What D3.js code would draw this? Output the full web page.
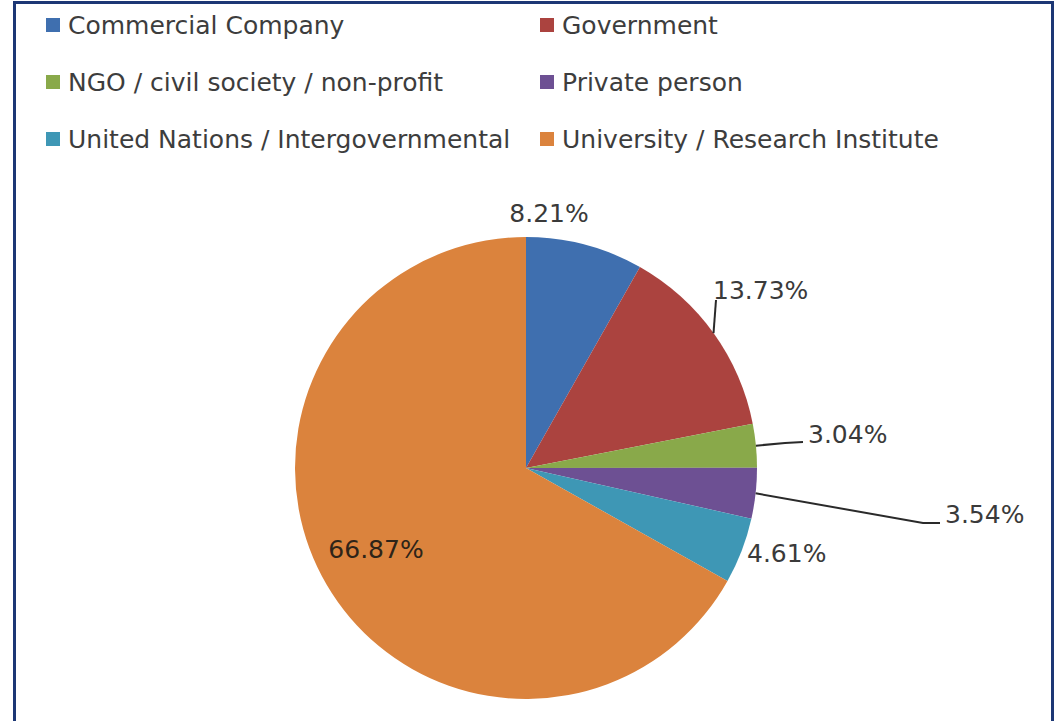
<!DOCTYPE html>
<html>
<head>
<meta charset="utf-8">
<script src="https://cdn.jsdelivr.net/npm/d3@7"></script>
<style>
  html, body { margin: 0; padding: 0; background: #fff; }
  svg { display: block; }
  text { font-family: "DejaVu Sans", sans-serif; }
</style>
</head>
<body>
<svg id="chart" width="1056" height="721"></svg>
<script>
// Respondent organisation types and their share of responses (%)
const categories = [
  "Commercial Company",
  "Government",
  "NGO / civil society / non-profit",
  "Private person",
  "United Nations / Intergovernmental",
  "University / Research Institute"
];
const shares = [8.21, 13.73, 3.04, 3.54, 4.61, 66.87];
const colors = ["#3f6faf", "#ab433f", "#89a94a", "#6d5093", "#3e97b5", "#db833d"];

// Label placement relative to the pie centre: [dx, dy, text-anchor]
const labelLayout = [
  [23, -246, "middle"],
  [187, -169, "start"],
  [282, -25, "start"],
  [419, 55, "start"],
  [221, 94, "start"],
  [-150, 90, "middle"]
];
// Leader lines for slices whose labels sit outside: elbow and end, relative to the label anchor
const leaderLayout = [
  null,
  [[3, 1], [3, 1]],
  [[-23, 0], [-5, -1]],
  [[-22, 0], [-5, 0]],
  null,
  null
];

const W = 1056, H = 721;
const cx = 526, cy = 468, radius = 231;

const svg = d3.select("#chart");

svg.append("rect").attr("width", W).attr("height", H).attr("fill", "#fff");

// Frame
svg.append("path")
  .attr("d", `M14.5,${H + 5} L14.5,2.5 L1052.5,2.5 L1052.5,${H + 5}`)
  .attr("fill", "none")
  .attr("stroke", "#1c3775")
  .attr("stroke-width", 3);

const data = categories.map((c, i) => ({ name: c, value: shares[i], color: colors[i] }));

const pie = d3.pie().value(d => d.value).sort(null);
const arcs = pie(data);
const arc = d3.arc().innerRadius(0).outerRadius(radius);
const edgeArc = d3.arc().innerRadius(radius).outerRadius(radius);

const g = svg.append("g").attr("transform", `translate(${cx},${cy})`);

g.selectAll("path.slice")
  .data(arcs)
  .join("path")
  .attr("class", "slice")
  .attr("d", arc)
  .attr("fill", d => d.data.color);

const fmt = v => v.toFixed(2) + "%";

// Leader lines from the slice edge to the label
g.selectAll("polyline.leader")
  .data(arcs.filter((d, i) => leaderLayout[i]))
  .join("polyline")
  .attr("class", "leader")
  .attr("fill", "none")
  .attr("stroke", "#2a2a2a")
  .attr("stroke-width", 2)
  .attr("points", d => {
    const i = d.index;
    const start = edgeArc.centroid(d);
    const [lx, ly] = labelLayout[i];
    const [elbow, end] = leaderLayout[i];
    return [start, [lx + elbow[0], ly + elbow[1]], [lx + end[0], ly + end[1]]]
      .map(p => p.join(",")).join(" ");
  });

g.selectAll("text.value")
  .data(arcs)
  .join("text")
  .attr("class", "value")
  .attr("x", d => labelLayout[d.index][0])
  .attr("y", d => labelLayout[d.index][1])
  .attr("text-anchor", d => labelLayout[d.index][2])
  .attr("font-size", 25)
  .attr("fill", d => d.index === 5 ? "#2e2418" : "#3a3a3a")
  .text(d => fmt(d.data.value));

// Legend: two columns, three rows
const legendCols = [46, 540];
const legendRows = [25, 82, 139];
const legend = svg.append("g");
const items = legend.selectAll("g.item")
  .data(data)
  .join("g")
  .attr("class", "item")
  .attr("transform", (d, i) => `translate(${legendCols[i % 2]},${legendRows[Math.floor(i / 2)]})`);

items.append("rect")
  .attr("x", 0).attr("y", -7)
  .attr("width", 14).attr("height", 14)
  .attr("fill", d => d.color);

items.append("text")
  .attr("x", 22)
  .attr("y", 8.5)
  .attr("font-size", 25)
  .attr("fill", "#3d3d3d")
  .text(d => d.name);
</script>
</body>
</html>
